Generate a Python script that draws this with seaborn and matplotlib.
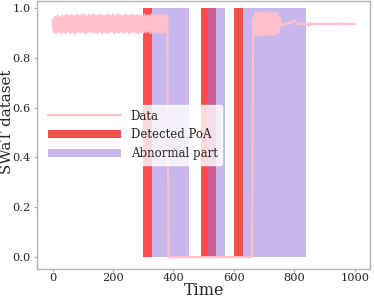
import numpy as np
import pandas as pd
import seaborn as sns
import matplotlib
matplotlib.use("Agg")
import matplotlib.pyplot as plt

sns.set_style("ticks")
plt.rcParams['font.family'] = ['DejaVu Serif']

# SWaT signal, one sample every 4 time steps (0..1000)
time = np.arange(0, 1001, 4)

# noisy normal operation before the attack (t = 0..380)
vals_before = [
    0.955, 0.902, 0.966, 0.899, 0.968, 0.904, 0.963, 0.898, 0.970, 0.903, 0.967, 0.900,
    0.972, 0.905, 0.969, 0.899, 0.971, 0.902, 0.966, 0.897, 0.973, 0.904, 0.968, 0.900,
    0.970, 0.903, 0.974, 0.898, 0.967, 0.901, 0.972, 0.905, 0.969, 0.899, 0.975, 0.902,
    0.968, 0.900, 0.971, 0.904, 0.973, 0.898, 0.967, 0.903, 0.970, 0.899, 0.974, 0.901,
    0.969, 0.905, 0.972, 0.897, 0.968, 0.902, 0.975, 0.900, 0.970, 0.904, 0.967, 0.899,
    0.973, 0.903, 0.969, 0.898, 0.971, 0.901, 0.974, 0.905, 0.968, 0.900, 0.972, 0.897,
    0.970, 0.903, 0.967, 0.899, 0.973, 0.902, 0.969, 0.904, 0.971, 0.898, 0.974, 0.901,
    0.968, 0.900, 0.972, 0.903, 0.970, 0.899, 0.973, 0.902, 0.969, 0.900, 0.971, 0.960,
]
# signal drops to zero during the attack (t = 384..660)
vals_attack = [0.0] * 70
# recovery with strong oscillation (t = 664..756)
vals_recover = [
    0.960, 0.890, 0.984, 0.893, 0.981, 0.888, 0.985, 0.892, 0.980, 0.889, 0.983, 0.894,
    0.982, 0.890, 0.986, 0.893, 0.979, 0.891, 0.984, 0.895, 0.978, 0.900, 0.960, 0.930,
]
# settled signal (t = 760..1000)
vals_after = [
    0.928, 0.934, 0.938, 0.933, 0.937, 0.941, 0.936, 0.944, 0.940, 0.947,
    0.952, 0.945, 0.940, 0.936, 0.933, 0.938, 0.935, 0.937, 0.933, 0.936,
    0.938, 0.934, 0.927, 0.940, 0.935, 0.937, 0.933, 0.936, 0.938, 0.934,
    0.936, 0.933, 0.937, 0.935, 0.938, 0.934, 0.936, 0.933, 0.937, 0.935,
    0.934, 0.938, 0.933, 0.936, 0.935, 0.937, 0.934, 0.936, 0.939, 0.933,
    0.936, 0.935, 0.937, 0.934, 0.936, 0.935, 0.933, 0.937, 0.935, 0.936,
    0.934,
]
value = vals_before + vals_attack + vals_recover + vals_after

# detected point-of-attack intervals and ground-truth abnormal intervals
poa_start = [300, 490, 600]
poa_end = [330, 540, 630]
abn_start = [330, 510, 630]
abn_end = [450, 570, 840]

df = pd.DataFrame({'Time': time, 'Value': value})

fig = plt.figure(figsize=(3.74, 2.99), dpi=100)
ax = fig.add_axes([0.100, 0.100, 0.889, 0.897])

sns.lineplot(data=df, x='Time', y='Value', ax=ax, color='pink', linewidth=1.5,
             label='Data', zorder=3)
ax.bar(poa_start, 1.0, width=np.subtract(poa_end, poa_start), bottom=0, align='edge',
       color='red', alpha=0.7, linewidth=0, label='Detected PoA')
ax.bar(abn_start, 1.0, width=np.subtract(abn_end, abn_start), bottom=0, align='edge',
       color='mediumpurple', alpha=0.5, linewidth=0, label='Abnormal part')

ax.set_xlim(-50, 1050)
ax.set_ylim(-0.048, 1.028)
ax.set_xticks([0, 200, 400, 600, 800, 1000])
ax.set_yticks([0.0, 0.2, 0.4, 0.6, 0.8, 1.0])
ax.set_xlabel('Time', fontsize=11.5)
ax.set_ylabel('SWaT dataset', fontsize=10.8)
ax.xaxis.set_label_coords(0.5, -0.048)
ax.yaxis.set_label_coords(-0.069, 0.55)
ax.tick_params(labelsize=8.2, color='0.7', length=2, width=0.8)
ax.tick_params(axis='x', pad=1)
ax.tick_params(axis='y', pad=3)
for s in ax.spines.values():
    s.set_color('0.7')
    s.set_linewidth(1.0)

ax.legend(loc='center left', fontsize=8.5, handlelength=6.2, frameon=True,
          framealpha=0.8, edgecolor='white')

fig.savefig('out.png', dpi=100)
